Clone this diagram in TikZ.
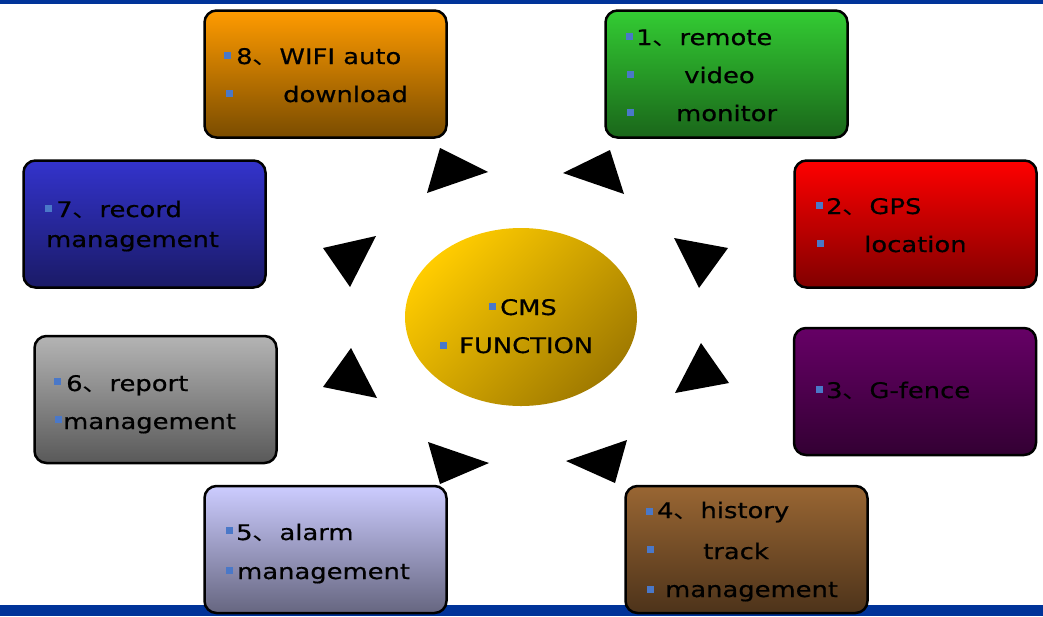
\documentclass[tikz,border=0pt]{standalone}
\usepackage{fontspec}
\setmainfont{DejaVu Sans}[FakeStretch=1.2,FakeBold=0.6]
\newfontfamily\cjkf{Noto Sans CJK SC}[FakeStretch=1.25]
\newcommand\dun{{\cjkf 、}}
\definecolor{barblue}{RGB}{0,51,153}
\definecolor{bulblue}{RGB}{74,120,200}
\definecolor{orT}{RGB}{255,155,0}\definecolor{orB}{RGB}{122,76,0}
\definecolor{grT}{RGB}{51,204,51}\definecolor{grB}{RGB}{26,102,26}
\definecolor{rdT}{RGB}{255,0,0}\definecolor{rdB}{RGB}{128,0,0}
\definecolor{blT}{RGB}{51,51,204}\definecolor{blB}{RGB}{26,26,102}
\definecolor{gyT}{RGB}{180,180,180}\definecolor{gyB}{RGB}{89,89,89}
\definecolor{puT}{RGB}{102,0,102}\definecolor{puB}{RGB}{51,0,51}
\definecolor{lvT}{RGB}{204,204,255}\definecolor{lvB}{RGB}{102,102,128}
\definecolor{brT}{RGB}{153,102,51}\definecolor{brB}{RGB}{77,51,26}
\definecolor{elT}{RGB}{255,204,0}\definecolor{elB}{RGB}{160,122,0}
\begin{document}
\begin{tikzpicture}[x=1pt,y=-1pt,
  box/.style={draw=black, line width=2.5pt, rounded corners=12pt, rectangle,
    minimum width=242pt, minimum height=127pt, inner sep=0pt, outer sep=0pt},
  lbl/.style={anchor=base west, inner sep=0pt, text=black,
    font=\fontsize{21.5pt}{24pt}\selectfont},
  tri/.style={fill=black},
  bul/.style={fill=bulblue}]
\useasboundingbox (0,0) rectangle (1043,616);
% bars
\fill[barblue] (0,0) rectangle (1043,4);
\fill[barblue] (0,605) rectangle (1043,616);
% boxes
\node[box, top color=orT, bottom color=orB] (b8) at (325.5,74) {};
\node[box, top color=grT, bottom color=grB] (b1) at (726.5,74) {};
\node[box, top color=rdT, bottom color=rdB] (b2) at (915.5,224) {};
\node[box, top color=blT, bottom color=blB] (b7) at (144.5,224) {};
\node[box, top color=gyT, bottom color=gyB] (b6) at (155.5,399.5) {};
\node[box, top color=puT, bottom color=puB] (b3) at (915,391.5) {};
\node[box, top color=lvT, bottom color=lvB] (b5) at (325.5,549.5) {};
\node[box, top color=brT, bottom color=brB] (b4) at (746.5,549.5) {};
% centre ellipse
\shade[top color=elT, bottom color=elB, shading angle=45] (521,317) ellipse [x radius=116, y radius=89];
\node[inner sep=0pt] (cen) at (521,317) {};
% triangles
\fill[tri] (440,148) -- (488,172) -- (427,193) -- cycle;
\fill[tri] (610,150) -- (563,173) -- (624,194) -- cycle;
\fill[tri] (323,248) -- (376,236) -- (350,287) -- cycle;
\fill[tri] (674,238) -- (728,248) -- (699,288) -- cycle;
\fill[tri] (351,348) -- (323,387) -- (377,398) -- cycle;
\fill[tri] (701,343) -- (675,393) -- (729,383) -- cycle;
\fill[tri] (428,442) -- (489,463) -- (440,484) -- cycle;
\fill[tri] (627,440) -- (566,461) -- (615,483) -- cycle;
% bullets
\foreach \x/\y in {227/55, 229/93, 629/36, 630/74, 630/112, 819/205, 820/243,
  48/208, 57.5/381.5, 58/419.5, 819/389, 229/530, 229/570,
  649.5/511, 650/549.5, 650.5/589, 492/306.5, 443/345}
  \fill[bul] (\x-3.5,\y-3.5) rectangle (\x+3.5,\y+3.5);
% texts
\node[lbl] (t8a) at (236,64) {8\dun WIFI auto};
\node[lbl] (t8b) at (283,102) {download};
\node[lbl] (t1a) at (636,45) {1\dun remote};
\node[lbl] (t1b) at (684,83) {video};
\node[lbl] (t1c) at (676,121) {monitor};
\node[lbl] (t2a) at (826,214) {2\dun GPS};
\node[lbl] (t2b) at (864,252) {location};
\node[lbl] (t7a) at (56,217) {7\dun record};
\node[lbl] (t7b) at (46,247) {management};
\node[lbl] (t6a) at (66,391) {6\dun report};
\node[lbl] (t6b) at (63,429) {management};
\node[lbl] (t3a) at (826,398) {3\dun G-fence};
\node[lbl] (t5a) at (236,540) {5\dun alarm};
\node[lbl] (t5b) at (237,579) {management};
\node[lbl] (t4a) at (657,518) {4\dun history};
\node[lbl] (t4b) at (703,559) {track};
\node[lbl] (t4c) at (665,597) {management};
\node[lbl] (tca) at (500,315) {CMS};
\node[lbl] (tcb) at (459,353) {FUNCTION};
\end{tikzpicture}
\end{document}
